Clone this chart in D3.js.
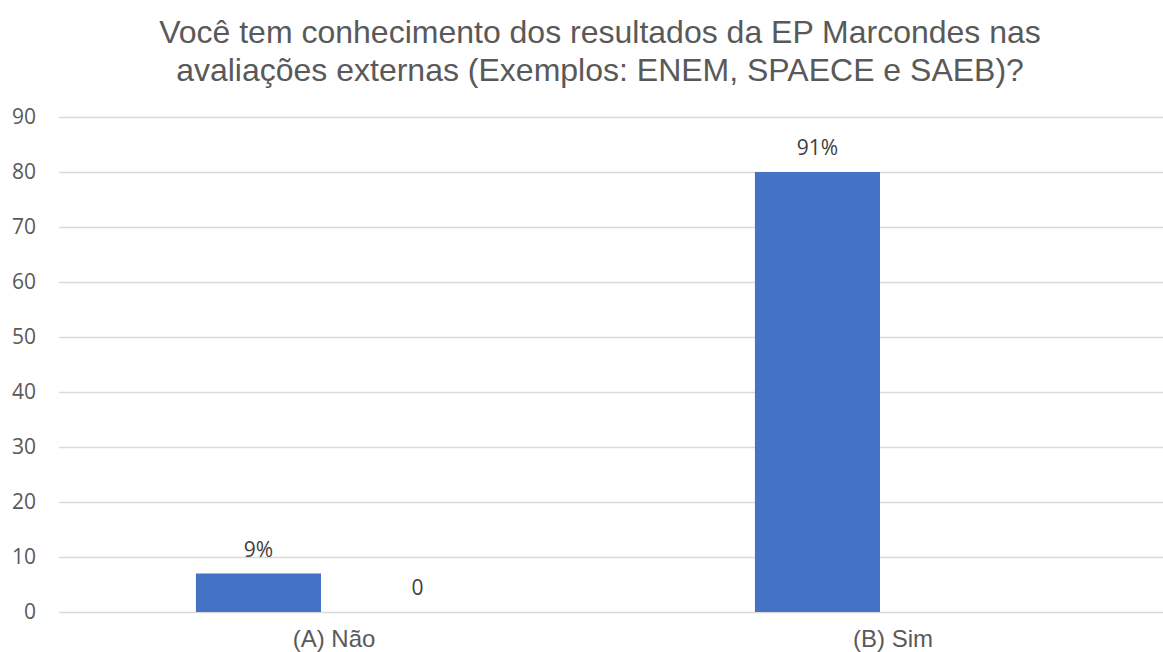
<!DOCTYPE html>
<html><head><meta charset="utf-8">
<script src="https://cdn.jsdelivr.net/npm/d3@7"></script>
<style>body{margin:0;background:#fff;}svg{display:block;}</style>
</head><body>
<svg id="c" width="1163" height="652"></svg>
<script>
const titleLines = ["Você tem conhecimento dos resultados da EP Marcondes nas", "avaliações externas (Exemplos: ENEM, SPAECE e SAEB)?"];
const categories = ["(A) Não", "(B) Sim"];
const seriesNames = ["s1", "s2"];
const series1 = [7, 80];
const series1Labels = ["9%", "91%"];
const series2 = [0, null];
const series2Labels = ["0", ""];
const yTicks = [0,10,20,30,40,50,60,70,80,90];

(function(){
const svg = d3.select("#c");
const W = 1163, H = 652;
const gridLeft = 59, mLeft = 54.5, mRight = 1172.5, mTop = 117, mBottom = 612;

svg.append("rect").attr("width", W).attr("height", H).attr("fill", "#fff");

const y = d3.scaleLinear().domain([0, 90]).range([mBottom, mTop]);
const x0 = d3.scaleBand().domain(categories).range([mLeft, mRight]).paddingInner(0.506).paddingOuter(0.253);
const x1 = d3.scaleBand().domain(seriesNames).range([0, x0.bandwidth()]).paddingInner(0.172);

// title
svg.append("g").selectAll("text").data(titleLines).join("text")
  .attr("x", 600).attr("y", (d, i) => 43 + i * 38)
  .attr("text-anchor", "middle")
  .attr("font-family", "Liberation Sans, Arial, sans-serif")
  .attr("font-size", 32).attr("fill", "#595959").text(d => d);

// gridlines
const yAxis = d3.axisLeft(y).tickValues(yTicks).tickSize(-(W - gridLeft)).tickPadding(23);
const gy = svg.append("g").attr("transform", `translate(${gridLeft},0)`).call(yAxis);
gy.select(".domain").remove();
gy.selectAll(".tick line").attr("stroke", "#d9d9d9").attr("stroke-width", 1.3);
gy.selectAll(".tick text").attr("fill", "#595959").attr("font-size", 21)
  .attr("font-family", "Open Sans, Noto Sans, sans-serif");

// x axis labels
const xAxis = d3.axisBottom(x0).tickSize(0).tickPadding(18);
const gx = svg.append("g").attr("transform", `translate(0,${mBottom})`).call(xAxis);
gx.select(".domain").remove();
gx.selectAll(".tick text").attr("fill", "#595959").attr("font-size", 24)
  .attr("font-family", "Liberation Sans, Arial, sans-serif");

// bars
const data = categories.map((c, i) => ({c, vals: [
  {s: "s1", v: series1[i], lab: series1Labels[i]},
  {s: "s2", v: series2[i], lab: series2Labels[i]}]}));
const groups = svg.append("g").selectAll("g").data(data).join("g")
  .attr("transform", d => `translate(${x0(d.c)},0)`);
groups.selectAll("rect").data(d => d.vals.filter(v => v.v != null && v.v > 0)).join("rect")
  .attr("x", d => x1(d.s)).attr("width", x1.bandwidth())
  .attr("y", d => y(d.v)).attr("height", d => y(0) - y(d.v))
  .attr("fill", "#4472c4");
groups.selectAll("text").data(d => d.vals.filter(v => v.v != null)).join("text")
  .attr("x", d => x1(d.s) + x1.bandwidth() / 2 + (d.s === "s2" ? 8 : 0))
  .attr("y", d => y(d.v) - 17)
  .attr("text-anchor", "middle").attr("fill", "#404040").attr("font-size", 21)
  .attr("font-family", "Open Sans, Noto Sans, sans-serif")
  .text(d => d.lab);
})();
</script>
</body></html>
